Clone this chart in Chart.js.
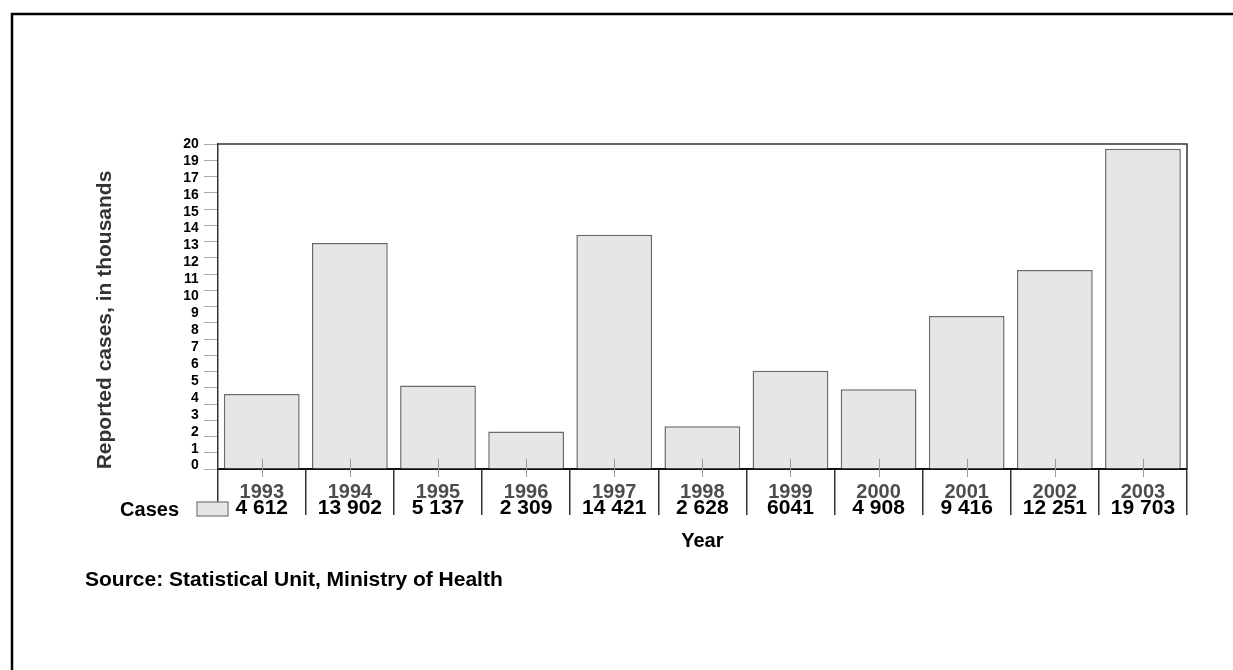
<!DOCTYPE html>
<html>
<head>
<meta charset="utf-8">
<script src="https://cdn.jsdelivr.net/npm/chart.js@4"></script>
<style>
  body { margin: 0; background: #fff; }
  #wrap { width: 1233px; height: 670px; }
</style>
</head>
<body>
<div id="wrap"><canvas id="casesChart" width="1233" height="670"></canvas></div>
<script>
// chart data
const years = ['1993', '1994', '1995', '1996', '1997', '1998', '1999', '2000', '2001', '2002', '2003'];
const cases = [4612, 13902, 5137, 2309, 14421, 2628, 6041, 4908, 9416, 12251, 19703];
const caseLabels = ['4 612', '13 902', '5 137', '2 309', '14 421', '2 628', '6041', '4 908', '9 416', '12 251', '19 703'];
// the original axis skips 18, so its labels don't sit on the ticks
const yTickLabels = ['0', '1', '2', '3', '4', '5', '6', '7', '8', '9', '10', '11', '12', '13', '14', '15', '16', '17', '19', '20'];

const FONT = "'Liberation Sans', Arial, sans-serif";

// frame, plot box, table under the axis, notes
const extras = {
    id: 'extras',
    beforeDatasetsDraw(chart) {
        const ctx = chart.ctx;
        const a = chart.chartArea;
        ctx.save();
        ctx.strokeStyle = '#333';
        ctx.lineWidth = 1.5;
        ctx.beginPath();
        ctx.moveTo(a.left, a.top);
        ctx.lineTo(a.right, a.top);
        ctx.lineTo(a.right, a.bottom);
        ctx.stroke();
        ctx.restore();
    },
    afterDraw(chart) {
        const ctx = chart.ctx;
        const x = chart.scales.x;
        const a = chart.chartArea;
        ctx.save();

        // outer frame
        ctx.strokeStyle = '#000';
        ctx.lineWidth = 2.5;
        ctx.beginPath();
        ctx.moveTo(12, 670);
        ctx.lineTo(12, 14);
        ctx.lineTo(1233, 14);
        ctx.stroke();

        // small ticks in the middle of each bar
        ctx.strokeStyle = '#999';
        ctx.lineWidth = 1;
        years.forEach((y, i) => {
            const px = Math.round(x.getPixelForValue(i)) + 0.5;
            ctx.beginPath();
            ctx.moveTo(px, a.bottom - 10);
            ctx.lineTo(px, a.bottom + 8);
            ctx.stroke();
        });

        // year + value rows
        ctx.textAlign = 'center';
        ctx.textBaseline = 'middle';
        years.forEach((y, i) => {
            const px = x.getPixelForValue(i);
            ctx.fillStyle = '#4d4d4d';
            ctx.font = 'bold 20px ' + FONT;
            ctx.fillText(y, px, a.bottom + 23);
            ctx.fillStyle = '#000';
            ctx.font = 'bold 21px ' + FONT;
            ctx.fillText(caseLabels[i], px, a.bottom + 39);
        });

        // legend swatch + series name
        ctx.fillStyle = '#e6e6e6';
        ctx.fillRect(197, 502, 31, 14);
        ctx.strokeStyle = '#777';
        ctx.lineWidth = 1.2;
        ctx.strokeRect(197, 502, 31, 14);
        ctx.fillStyle = '#000';
        ctx.textAlign = 'right';
        ctx.font = 'bold 20px ' + FONT;
        ctx.fillText('Cases', 179, 510);

        // axis titles
        ctx.textAlign = 'center';
        ctx.fillText('Year', (a.left + a.right) / 2, 541);
        ctx.save();
        ctx.translate(105, 320);
        ctx.rotate(-Math.PI / 2);
        ctx.fillStyle = '#333';
        ctx.font = 'bold 21px ' + FONT;
        ctx.fillText('Reported cases, in thousands', 0, 0);
        ctx.restore();

        // source note
        ctx.textAlign = 'left';
        ctx.font = 'bold 21px ' + FONT;
        ctx.fillText('Source: Statistical Unit, Ministry of Health', 85, 580);
        ctx.restore();
    }
};

const ctx = document.getElementById('casesChart').getContext('2d');
new Chart(ctx, {
    type: 'bar',
    data: {
        labels: years,
        datasets: [{
            label: 'Cases',
            data: cases.map(v => v / 1000),
            backgroundColor: '#e6e6e6',
            borderColor: '#6a6a6a',
            borderWidth: 1.5,
            barPercentage: 0.86,
            categoryPercentage: 1
        }]
    },
    options: {
        responsive: false,
        animation: false,
        layout: {
            padding: { left: 88, top: 144, right: 46, bottom: 155 }
        },
        plugins: {
            legend: { display: false },
            tooltip: { enabled: false }
        },
        scales: {
            x: {
                offset: true,
                grid: {
                    offset: true,
                    drawOnChartArea: false,
                    tickLength: 46,
                    color: '#333',
                    lineWidth: 1.5
                },
                border: { color: '#111', width: 2 },
                ticks: { display: false },
                afterFit: s => { s.height = 46; }
            },
            y: {
                min: 0,
                max: 20,
                ticks: { stepSize: 1, display: false },
                grid: {
                    drawOnChartArea: false,
                    tickLength: 14,
                    color: '#aaa'
                },
                border: { color: '#333', width: 1.5 },
                afterFit: s => { s.width = 19; }
            },
            yLabels: {
                position: 'left',
                min: -0.2,
                max: 19,
                grid: { display: false, drawTicks: false },
                border: { display: false },
                afterBuildTicks: s => { s.ticks = yTickLabels.map((t, i) => ({ value: i })); },
                ticks: {
                    padding: 0,
                    autoSkip: false,
                    color: '#000',
                    font: { family: FONT, size: 14, weight: 'bold' },
                    callback: (v, i) => yTickLabels[i]
                },
                afterFit: s => { s.width = 198.7 - 88; }
            }
        }
    },
    plugins: [extras]
});
</script>
</body>
</html>
